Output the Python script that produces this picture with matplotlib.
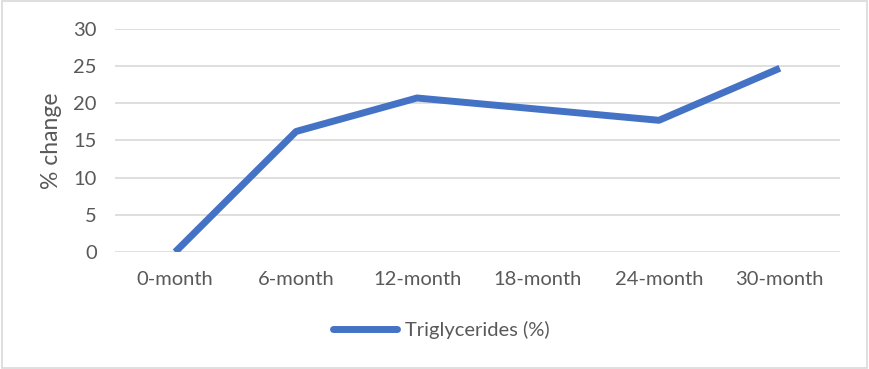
import matplotlib.pyplot as plt
from matplotlib.patches import Rectangle
from matplotlib.lines import Line2D

# data
months = ["0-month", "6-month", "12-month", "18-month", "24-month", "30-month"]
triglycerides = [0.0, 16.2, 20.7, 19.2, 17.7, 24.7]
y_ticks = [0, 5, 10, 15, 20, 25, 30]

plt.rcParams['font.family'] = ['Lato', 'DejaVu Sans']
TEXT = "#595959"
BLUE = "#4472C4"

fig = plt.figure(figsize=(8.69, 3.69), dpi=100)
ax = fig.add_axes([0.132, 0.317, 0.835, 0.605])

x = list(range(len(months)))
ax.plot(x, triglycerides, color=BLUE, lw=5, solid_capstyle="butt", solid_joinstyle="round", zorder=3)

ax.set_xlim(-0.5, len(months) - 0.5)
ax.set_ylim(0, 30)
ax.set_yticks(y_ticks)
ax.set_xticks(x)
ax.set_xticklabels(months)
ax.tick_params(axis="both", length=0, labelsize=14.5, colors=TEXT)
ax.tick_params(axis="y", pad=13)
ax.tick_params(axis="x", pad=14)
ax.grid(axis="y", color="#D9D9D9", lw=1.2, zorder=0)
for s in ax.spines.values():
    s.set_visible(False)
ax.set_ylabel("% change", fontsize=16.5, color=TEXT)
ax.yaxis.set_label_coords(-0.073, 0.5)

handle = Line2D([], [], color=BLUE, lw=5, solid_capstyle="round")
fig.legend([handle], ["Triglycerides (%)"], loc="center", bbox_to_anchor=(0.508, 0.105),
           frameon=False, fontsize=14.5, labelcolor=TEXT, handlelength=3.2, handletextpad=0.4)

fig.patches.append(Rectangle((0.002, 0.003), 0.996, 0.994, transform=fig.transFigure,
                             fill=False, edgecolor="#D9D9D9", lw=1.2))

fig.savefig("out.png", dpi=100)
